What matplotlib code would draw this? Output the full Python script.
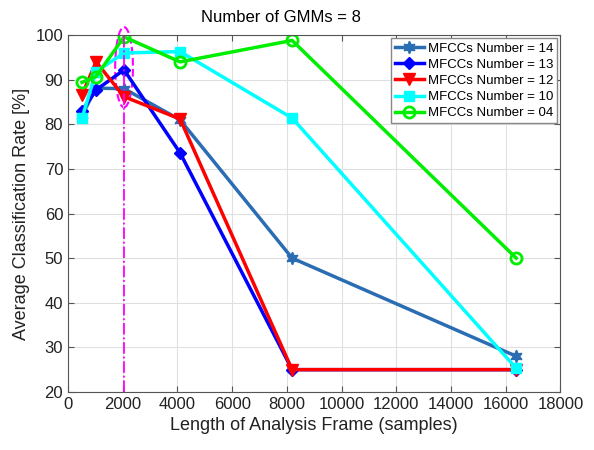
import matplotlib
matplotlib.use('Agg')
import matplotlib.pyplot as plt
from matplotlib.patches import Ellipse

plt.rcParams['font.family'] = ['Liberation Sans', 'DejaVu Sans']

# frame lengths (samples)
frame_len = [512, 1024, 2048, 4096, 8192, 16384]

# classification rate per MFCC count
rate_14 = [82.0, 88.1, 88.0, 81.0, 50.0, 28.0]
rate_13 = [83.0, 87.7, 92.2, 73.6, 25.0, 25.0]
rate_12 = [86.6, 94.0, 86.2, 81.2, 25.0, 25.0]
rate_10 = [81.4, 91.8, 96.0, 96.3, 81.4, 25.3]
rate_04 = [89.4, 90.7, 99.6, 94.0, 98.8, 50.0]

labels = ['MFCCs Number = 14', 'MFCCs Number = 13', 'MFCCs Number = 12',
          'MFCCs Number = 10', 'MFCCs Number = 04']
best_len = 2048

fig = plt.figure(figsize=(5.94, 4.5), dpi=100)
ax = fig.add_axes([0.1145, 0.129, 0.829, 0.793])

ax.plot(frame_len, rate_14, color='#2a6db3', lw=2.5, marker=(6, 1, 0), ms=9, label=labels[0])
ax.plot(frame_len, rate_13, color='#0000ff', lw=2.5, marker='D', ms=6.5, label=labels[1])
ax.plot(frame_len, rate_12, color='#ff0000', lw=2.5, marker='v', ms=9, label=labels[2])
ax.plot(frame_len, rate_10, color='#00ffff', lw=2.5, marker='s', ms=6.5, label=labels[3])
ax.plot(frame_len, rate_04, color='#00ee00', lw=2.5, marker='o', ms=8, mfc='none', mew=2, label=labels[4])

ax.axvline(best_len, color='#ff00ff', ls='-.', lw=1.3)
ax.add_patch(Ellipse((best_len, 92.8), 650, 18, fill=False, ec='#ff00ff', ls='--', lw=1.5, clip_on=False))

ax.set_xlim(0, 18000)
ax.set_ylim(20, 100)
ax.set_xticks(range(0, 18001, 2000))
ax.set_yticks(range(20, 101, 10))
ax.grid(True, color='#e0e0e0', lw=0.8)
ax.tick_params(labelsize=12, direction='in', length=4, color='#555555', labelcolor='#222222',
               top=True, right=True)
for s in ax.spines.values():
    s.set_color('#555555')

ax.set_xlabel('Length of Analysis Frame (samples)', fontsize=13, color='#222222')
ax.set_ylabel('Average Classification Rate [%]', fontsize=13, color='#222222')
fig.text(0.473, 0.962, 'Number of GMMs = 8', fontsize=12, ha='center', va='center')

leg = ax.legend(loc='upper right', fontsize=9.5, fancybox=False, framealpha=1,
                edgecolor='#888888', handlelength=2.2, handletextpad=0.3,
                borderaxespad=0.25, labelspacing=0.3, borderpad=0.3)

plt.savefig('out.png', dpi=100)
